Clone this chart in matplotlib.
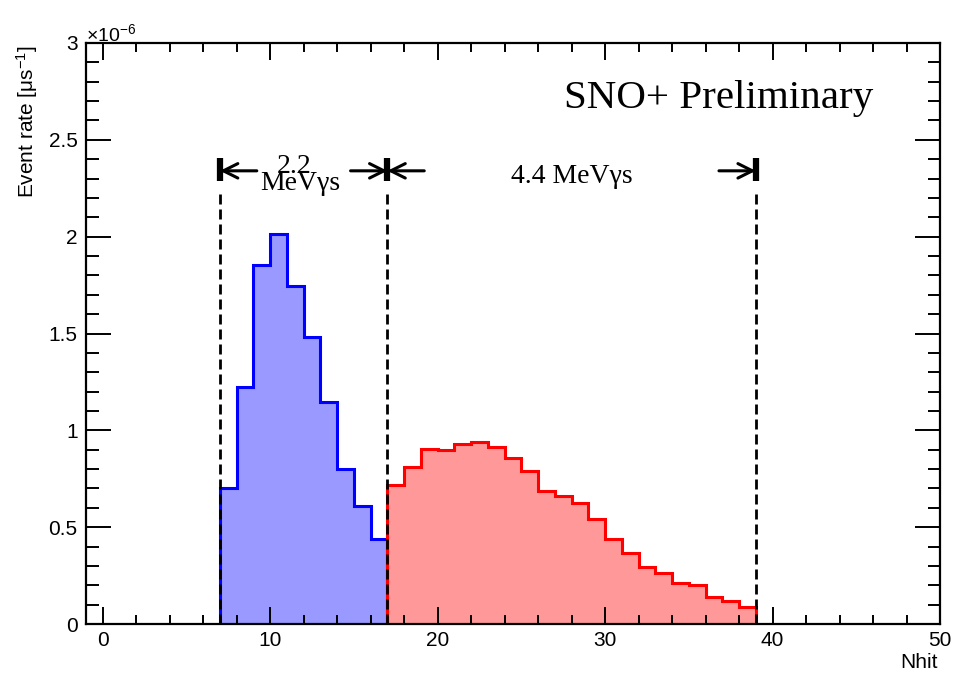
import matplotlib
matplotlib.use("Agg")
import matplotlib.pyplot as plt
from matplotlib.ticker import MultipleLocator, FormatStrFormatter

plt.rcParams['mathtext.fontset'] = 'custom'
plt.rcParams['mathtext.rm'] = 'Liberation Sans'
plt.rcParams['mathtext.it'] = 'Liberation Sans:italic'
plt.rcParams['font.family'] = 'Liberation Sans'

# Data (event rate in units of 1e-6 per microsecond)
edges_2p2 = list(range(7, 18))
rate_2p2 = [0.70, 1.225, 1.853, 2.013, 1.745, 1.483, 1.146, 0.80, 0.609, 0.439]
edges_4p4 = list(range(17, 40))
rate_4p4 = [0.717, 0.809, 0.903, 0.897, 0.928, 0.94, 0.914, 0.859, 0.792, 0.687,
            0.660, 0.624, 0.540, 0.437, 0.368, 0.296, 0.262, 0.210, 0.200, 0.141,
            0.119, 0.089]
cut_lines = [7, 17, 39]

fig = plt.figure(figsize=(9.54, 6.74), dpi=100)
ax = fig.add_axes([86/954, 1-624/674, (940-86)/954, (624-43)/674])

ax.stairs(rate_2p2, edges_2p2, fill=True, color='#9999ff', lw=0, zorder=1)
ax.stairs(rate_2p2, edges_2p2, baseline=0, color='#0000ff', lw=2.2, zorder=2)
ax.stairs(rate_4p4, edges_4p4, fill=True, color='#ff9999', lw=0, zorder=1)
ax.stairs(rate_4p4, edges_4p4, baseline=0, color='#ff0000', lw=2.2, zorder=2)

y_arrow = 2.34
for xc in cut_lines:
    ax.plot([xc, xc], [0, 2.24], ls=(0, (3.6, 1.8)), color='k', lw=2.0, zorder=3)
    ax.plot([xc, xc], [2.285, 2.405], color='k', lw=4.5, zorder=4, solid_capstyle='butt')

arrow_len = 2.2
for a, b in [(7, 17), (17, 39)]:
    ax.annotate('', xy=(a, y_arrow), xytext=(a + arrow_len, y_arrow),
                arrowprops=dict(arrowstyle='->', color='k', lw=2.2,
                                mutation_scale=26, shrinkA=0, shrinkB=0), zorder=4)
    ax.annotate('', xy=(b, y_arrow), xytext=(b - arrow_len, y_arrow),
                arrowprops=dict(arrowstyle='->', color='k', lw=2.2,
                                mutation_scale=26, shrinkA=0, shrinkB=0), zorder=4)

ax.text(11.4, 2.328, '2.2', ha='center', va='baseline',
        family='Liberation Serif', fontsize=20, zorder=5)
ax.text(11.8, 2.241, 'MeVγs', ha='center', va='baseline',
        family='Liberation Serif', fontsize=20, zorder=5)
ax.text(28, 2.277, '4.4 MeVγs', ha='center', va='baseline',
        family='Liberation Serif', fontsize=20, zorder=5)

ax.text(0.922, 0.905, 'SNO+ Preliminary', transform=ax.transAxes, ha='right', va='center',
        family='Liberation Serif', fontsize=29.5)

ax.set_xlim(-1, 50)
ax.set_ylim(0, 3)
ax.xaxis.set_major_locator(MultipleLocator(10))
ax.xaxis.set_minor_locator(MultipleLocator(2))
ax.yaxis.set_major_locator(MultipleLocator(0.5))
ax.yaxis.set_minor_locator(MultipleLocator(0.1))
ax.yaxis.set_major_formatter(FormatStrFormatter('%g'))

for sp in ax.spines.values():
    sp.set_linewidth(1.6)
ax.tick_params(axis='both', which='both', direction='in', top=True, right=True,
               width=1.4, labelsize=15)
ax.tick_params(axis='x', which='major', length=12.5, pad=5)
ax.tick_params(axis='x', which='minor', length=6.3)
ax.tick_params(axis='y', which='major', length=18, pad=6)
ax.tick_params(axis='y', which='minor', length=9)

fig.text(27/954, 1-45/674, 'Event rate [μs$^{-1}$]', rotation=90, ha='center', va='top',
         fontsize=15)
fig.text(86/954, 1-34/674, '×10$^{-6}$', ha='left', va='center', fontsize=14)
fig.text(938/954, 1-662/674, 'Nhit', ha='right', va='center', fontsize=15)

fig.savefig('out.png', dpi=100)
